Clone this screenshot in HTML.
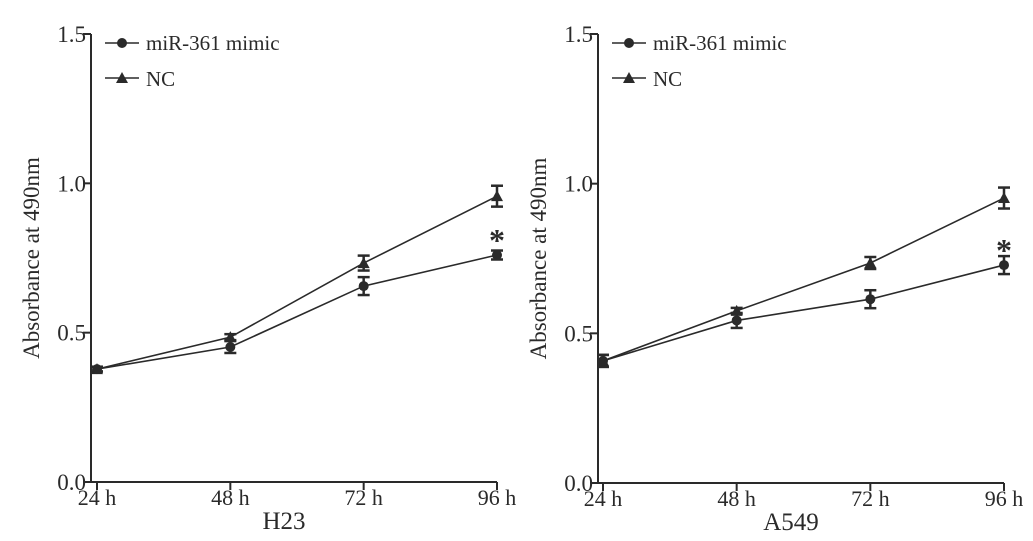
<!DOCTYPE html>
<html><head><meta charset="utf-8"><style>
html,body{margin:0;padding:0;background:#fff;}
svg{display:block;font-family:"Liberation Serif",serif;}
</style></head><body>
<svg id="c" width="1033" height="541" viewBox="0 0 1033 541"></svg>
<script>
const categories = ["24 h","48 h","72 h","96 h"];
const yTicks = [0.0, 0.5, 1.0, 1.5];
const h23Mimic = [0.378, 0.452, 0.656, 0.760];
const h23MimicErr = [0.008, 0.02, 0.03, 0.015];
const h23NC = [0.378, 0.485, 0.733, 0.957];
const h23NCErr = [0.008, 0.01, 0.025, 0.035];
const a549Mimic = [0.408, 0.543, 0.614, 0.728];
const a549MimicErr = [0.02, 0.025, 0.03, 0.03];
const a549NC = [0.408, 0.575, 0.735, 0.952];
const a549NCErr = [0.02, 0.01, 0.02, 0.035];
const panelTitles = ["H23","A549"];

const NS="http://www.w3.org/2000/svg";
const svg=document.getElementById('c');
function mk(tag,attrs,parent){const e=document.createElementNS(NS,tag);for(const k in attrs)e.setAttribute(k,attrs[k]);(parent||svg).appendChild(e);return e;}
const C="#2a2a2a";

function panel(g, axX, xPos0, xPos3, y0px, y15px, mimic, mimicErr, nc, ncErr, title, legX){
  const ys=v=>y0px-(v/1.5)*(y0px-y15px);
  const xs=i=>xPos0+i*(xPos3-xPos0)/(categories.length-1);
  mk('line',{x1:axX,y1:y15px,x2:axX,y2:y0px,stroke:C,'stroke-width':2},g);
  mk('line',{x1:axX,y1:y0px,x2:xs(categories.length-1),y2:y0px,stroke:C,'stroke-width':2},g);
  yTicks.forEach(t=>{
    mk('line',{x1:axX-8,y1:ys(t),x2:axX,y2:ys(t),stroke:C,'stroke-width':2},g);
    const tx=mk('text',{x:axX-5,y:ys(t)+8,'text-anchor':'end','font-size':23,fill:C},g);
    
    
    tx.textContent=t.toFixed(1);
  });
  categories.forEach((c,i)=>{
    mk('line',{x1:xs(i),y1:y0px,x2:xs(i),y2:y0px+8,stroke:C,'stroke-width':2},g);
    const tx=mk('text',{x:xs(i),y:y0px+23,'text-anchor':'middle','font-size':22,fill:C},g);
    
    
    tx.textContent=c;
  });
  const yt=mk('text',{transform:`translate(${axX-52},${(y0px+y15px)/2}) rotate(-90)`,'text-anchor':'middle','font-size':23,fill:C},g);
  
  
  yt.textContent='Absorbance at 490nm';
  const xt=mk('text',{x:(axX+xs(3))/2-10,y:y0px+47,'text-anchor':'middle','font-size':25,fill:C},g);
  
  
  xt.textContent=title;
  function series(vals,errs,marker,name){
    const pts=vals.map((v,i)=>xs(i)+','+ys(v)).join(' ');
    const l=mk('polyline',{points:pts,fill:'none',stroke:C,'stroke-width':1.6},g);
    
    
    vals.forEach((v,i)=>{
      const x=xs(i),e=errs[i];
      mk('line',{x1:x,y1:ys(v-e),x2:x,y2:ys(v+e),stroke:C,'stroke-width':2.5},g);
      mk('line',{x1:x-6,y1:ys(v-e),x2:x+6,y2:ys(v-e),stroke:C,'stroke-width':2.5},g);
      mk('line',{x1:x-6,y1:ys(v+e),x2:x+6,y2:ys(v+e),stroke:C,'stroke-width':2.5},g);
      let m;
      if(marker==='circle') m=mk('circle',{cx:x,cy:ys(v),r:5,fill:C},g);
      else m=mk('polygon',{points:`${x},${ys(v)-6} ${x-6},${ys(v)+5} ${x+6},${ys(v)+5}`,fill:C},g);
      
      
    });
  }
  series(nc,ncErr,'tri','nc');
  series(mimic,mimicErr,'circle','mimic');
  const st=mk('text',{x:xs(3),y:ys(mimic[3])-4,'text-anchor':'middle','font-size':32,'font-weight':'bold',fill:C},g);
  
  
  st.textContent='*';
  const lg=mk('g',{},g);
  
  
  mk('line',{x1:legX,y1:43,x2:legX+34,y2:43,stroke:C,'stroke-width':1.6},lg);
  mk('circle',{cx:legX+17,cy:43,r:5,fill:C},lg);
  const t1=mk('text',{x:legX+41,y:50,'font-size':21,fill:C},lg);
  
  
  t1.textContent='miR-361 mimic';
  mk('line',{x1:legX,y1:78,x2:legX+34,y2:78,stroke:C,'stroke-width':1.6},lg);
  mk('polygon',{points:`${legX+17},72 ${legX+11},83 ${legX+23},83`,fill:C},lg);
  const t2=mk('text',{x:legX+41,y:86,'font-size':21,fill:C},lg);
  
  
  t2.textContent='NC';
}
const g1=mk('g',{});


panel(g1,91,97,497,482,34,h23Mimic,h23MimicErr,h23NC,h23NCErr,panelTitles[0],105);
const g2=mk('g',{});


panel(g2,598,603,1004,483,34,a549Mimic,a549MimicErr,a549NC,a549NCErr,panelTitles[1],612);
</script>
</body></html>
